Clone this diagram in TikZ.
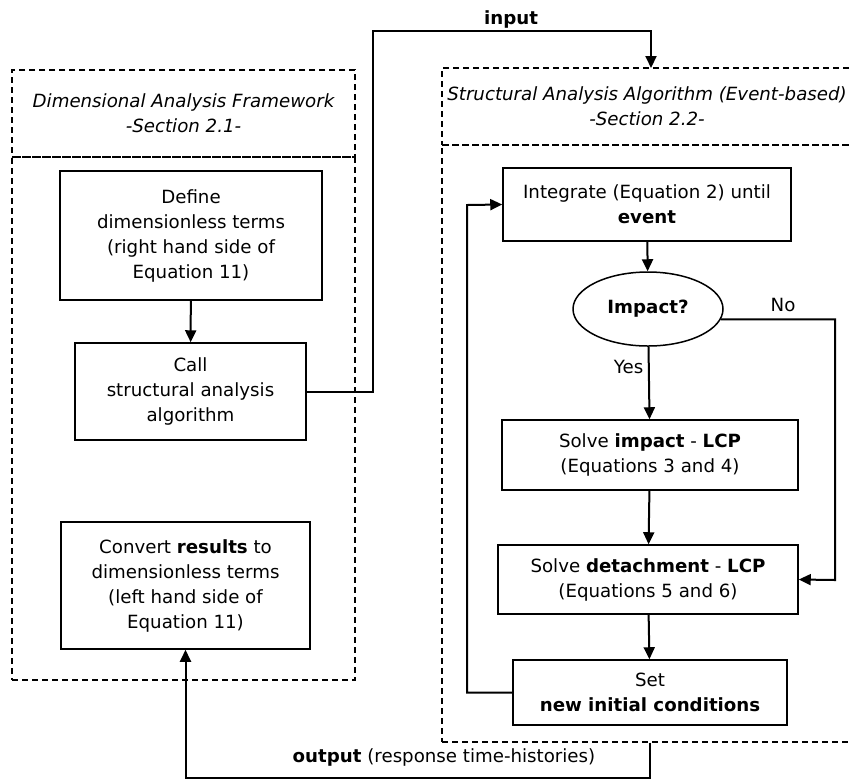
\documentclass[tikz,border=0pt]{standalone}
\usepackage{fontspec}
\setmainfont{DejaVu Sans}
\usetikzlibrary{positioning,shapes.geometric,arrows.meta}

\begin{document}
\begin{tikzpicture}[
    x=1pt,y=-1pt,
    font=\fontsize{18.2}{25}\selectfont,
    thick
  ]
\useasboundingbox (0,0) rectangle (850,780);

\tikzstyle{frame}=[draw,dash pattern=on 6pt off 4pt,line width=1.2pt,inner sep=0pt];
\tikzstyle{blk}=[draw,rectangle,line width=1.5pt,align=center,inner sep=0pt];
\tikzstyle{arr}=[-{Triangle[length=12pt,width=11pt]},line width=2pt];

% dashed frames
\node[frame,minimum width=343,minimum height=87,align=center] (dafhead) at (183.5,113.5)
  {\itshape Dimensional Analysis Framework\\\itshape -Section 2.1-};
\node[frame,minimum width=343,minimum height=523] (dafbody) at (183.5,418.5) {};

\node[frame,minimum width=410,minimum height=77,align=center] (saahead) at (647,106.5)
  {\itshape Structural Analysis Algorithm (Event-based)\\\itshape -Section 2.2-};
\node[frame,minimum width=410,minimum height=597] (saabody) at (647,443.5) {};

% left column
\node[blk,minimum width=262,minimum height=129] (define) at (191,235.5)
  {Define\\dimensionless terms\\(right hand side of\\Equation 11)};
\node[blk,minimum width=231,minimum height=97] (call) at (190.5,391.5)
  {Call\\structural analysis\\algorithm};
\node[blk,minimum width=249,minimum height=127] (convert) at (185.5,585.5)
  {Convert \textbf{results} to\\dimensionless terms\\(left hand side of\\Equation 11)};

% right column
\node[blk,minimum width=288,minimum height=73] (integrate) at (647,204.5)
  {Integrate (Equation 2) until\\\textbf{event}};
\node[draw,ellipse,line width=1.5pt,inner sep=0pt,minimum width=150,minimum height=74] (impact) at (648,309)
  {\textbf{Impact?}};
\node[blk,minimum width=296,minimum height=70] (solveimp) at (650,455)
  {Solve \textbf{impact} - \textbf{LCP}\\(Equations 3 and 4)};
\node[blk,minimum width=300,minimum height=69] (solvedet) at (648,579.5)
  {Solve \textbf{detachment} - \textbf{LCP}\\(Equations 5 and 6)};
\node[blk,minimum width=274,minimum height=65] (setic) at (650,692.5)
  {Set\\\textbf{new initial conditions}};

% bends
\coordinate (inbend) at (373,31);
\coordinate (inend) at (651,68);
\coordinate (nocorner) at (835,580);
\coordinate (loopcorner) at (467,205);
\coordinate (outcorner) at (650,778);

\draw[arr] (define) -- (call);
\draw[arr] (call.east) -| (inbend) -| (inend);
\node[font=\fontsize{18.2}{25}\selectfont\bfseries] (inlbl) at (511,19) {input};

\draw[arr] (integrate) -- (impact);
\draw[arr] (impact) -- (solveimp);
\node[left=1pt of impact.south,anchor=north east,yshift=-10pt] (yeslbl) {Yes};
\draw[arr] (impact.-8) -| (nocorner) -- (solvedet.east);
\node (nolbl) at (783,305) {No};
\draw[arr] (solveimp) -- (solvedet);
\draw[arr] (solvedet) -- (setic);
\draw[arr] (setic.west) -| (loopcorner) -- (integrate.west);

\draw[arr] (setic |- saabody.south) -- (outcorner) -| (convert.south);
\node (outlbl) at (444,757) {\textbf{output} (response time-histories)};

\end{tikzpicture}
\end{document}
